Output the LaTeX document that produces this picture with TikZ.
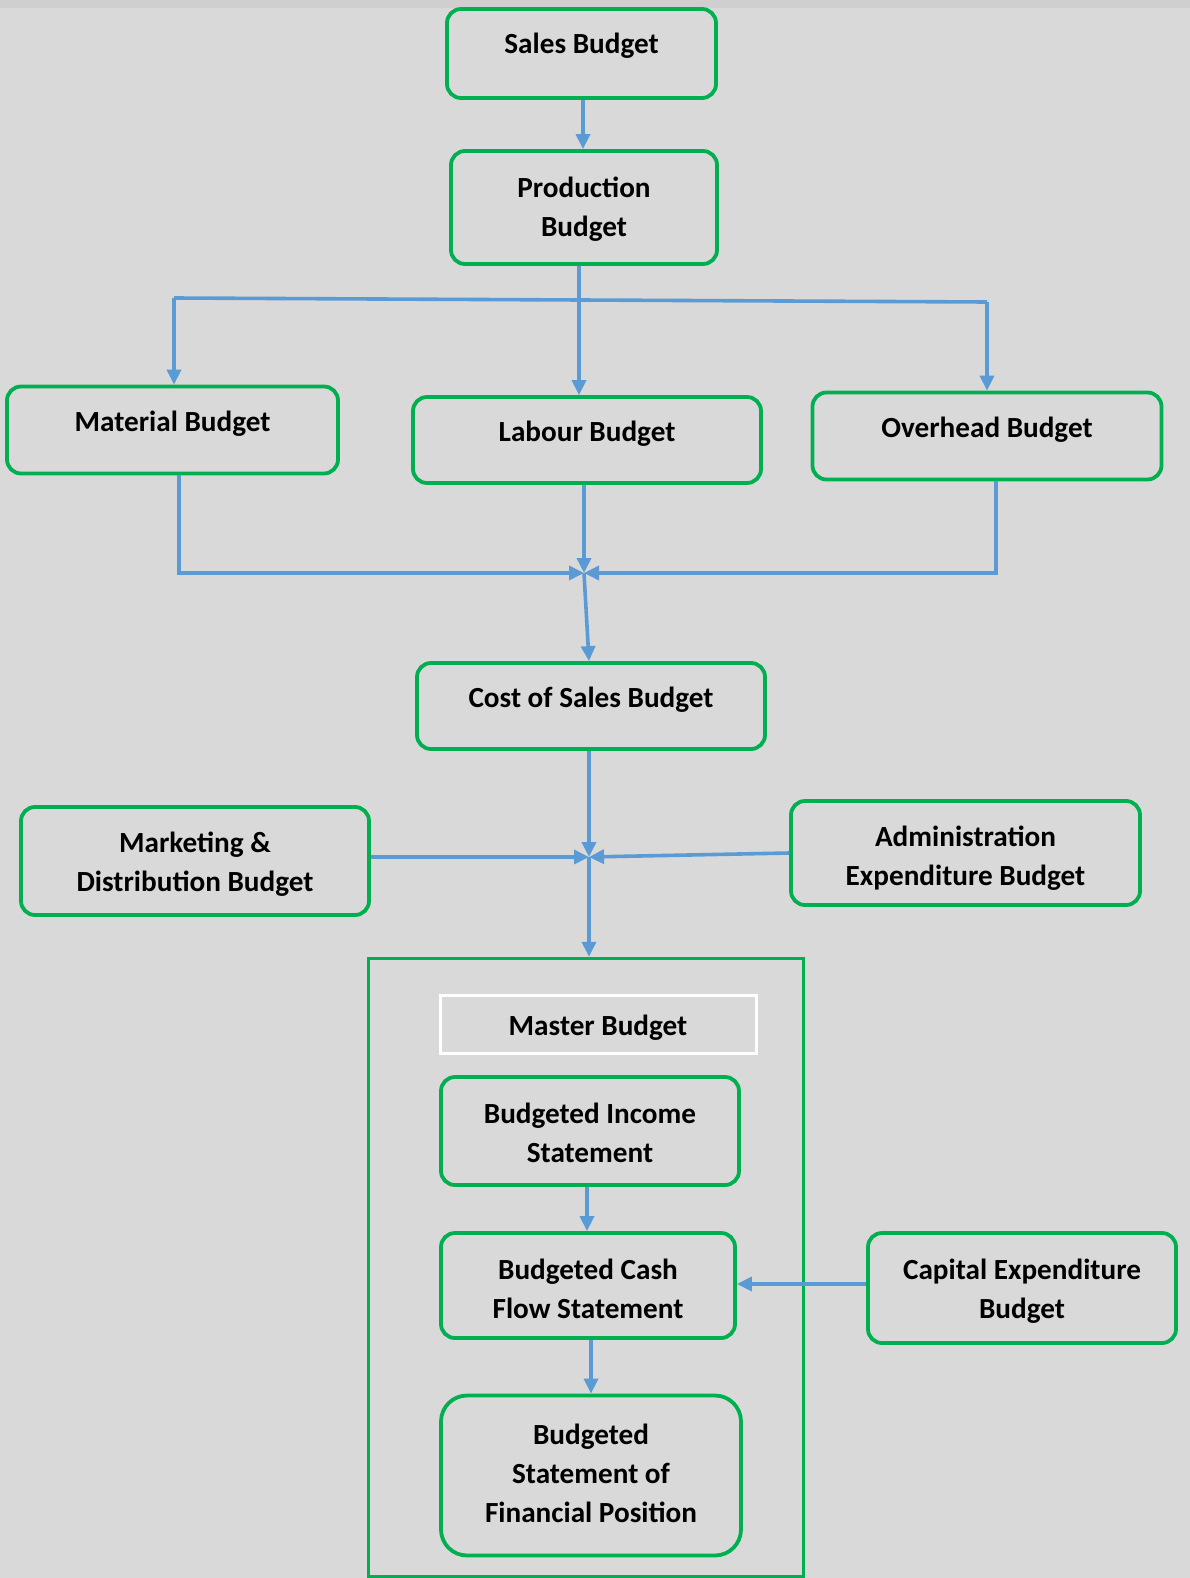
\documentclass[tikz,border=0pt]{standalone}
\usepackage{fontspec}
\setmainfont{Carlito}
\usetikzlibrary{arrows.meta}
\definecolor{bg}{HTML}{D9D9D9}
\definecolor{strip}{HTML}{D0CECE}
\definecolor{gr}{HTML}{00B050}
\definecolor{bl}{HTML}{5B9BD5}
\begin{document}
\begin{tikzpicture}[x=1pt,y=-1pt,
  box/.style={draw=gr, line width=3.8pt, rounded corners=14pt, inner sep=0pt, align=center,
    font=\fontsize{29.2}{39}\selectfont\bfseries},
  txt/.style={inner sep=0pt, align=center, font=\fontsize{29.2}{39}\selectfont\bfseries},
  oneline/.style={text height=20pt, text depth=17pt},
  conn/.style={draw=bl, line width=3.6pt},
  arr/.style={conn, -{Triangle[width=14pt,length=15pt]}},
]
\useasboundingbox (0,0) rectangle (1190,1578);
\fill[bg] (0,0) rectangle (1190,1578);
\fill[strip] (0,0) rectangle (1190,8);

% master container
\node[draw=gr, line width=3.4pt, minimum width=435pt, minimum height=618.5pt, inner sep=0pt] (master) at (586,1267.75) {};

% single-line boxes
\node[box, oneline, text height=22pt, text depth=21pt, minimum width=269pt, minimum height=89pt] (sales) at (581.5,53.5) {Sales Budget};
\node[box, oneline, minimum width=331pt, minimum height=87pt] (mat) at (172.5,430) {Material Budget};
\node[box, oneline, minimum width=348pt, minimum height=86pt] (lab) at (587,440) {Labour Budget};
\node[box, oneline, minimum width=349pt, minimum height=87pt] (over) at (987,436) {Overhead Budget};
\node[box, oneline, minimum width=348pt, minimum height=86pt] (cost) at (591,706) {Cost of Sales Budget};
\node[draw=white, line width=3pt, inner sep=0pt, minimum width=316pt, minimum height=58pt,
  font=\fontsize{29.2}{39}\selectfont\bfseries, text height=24pt, text depth=2pt] (mlabel) at (598,1024) {Master Budget};

% multi-line boxes (box + text)
\node[box, minimum width=266pt, minimum height=113pt] (prod) at (584,207.5) {};
\node[txt] (prodT) at (584,209.5) {Production\\Budget};
\node[box, minimum width=348pt, minimum height=108pt] (mkt) at (195,861) {};
\node[txt] (mktT) at (195,864) {Marketing \&\\Distribution Budget};
\node[box, minimum width=349pt, minimum height=104pt] (adm) at (965.5,853) {};
\node[txt] (admT) at (965.5,858) {Administration\\Expenditure Budget};
\node[box, minimum width=298pt, minimum height=108pt] (inc) at (590,1131) {};
\node[txt] (incT) at (590,1133) {Budgeted Income\\Statement};
\node[box, minimum width=294pt, minimum height=105pt] (cash) at (588,1285.5) {};
\node[txt] (cashT) at (588,1288.5) {Budgeted Cash\\Flow Statement};
\node[box, minimum width=308pt, minimum height=110pt] (cap) at (1022,1288) {};
\node[txt] (capT) at (1022,1291) {Capital Expenditure\\Budget};
\node[box, rounded corners=26pt, minimum width=300pt, minimum height=160pt] (fin) at (591,1475.5) {};
\node[txt] (finT) at (591,1473.5) {Budgeted\\Statement of\\Financial Position};

% helper coordinates
\coordinate (vA) at (583,0);
\coordinate (vB) at (579,0);
\coordinate (busL) at (174,298);
\coordinate (busR) at (987,302);
\coordinate (vM) at (179,0);
\coordinate (vO) at (996,0);
\coordinate (j1) at (584,573);
\coordinate (vC) at (589,0);
\coordinate (j2) at (589,857);
\coordinate (vI) at (587,0);
\coordinate (yc) at (0,1284);
\coordinate (vF) at (591,0);

% connectors
\draw[arr] (sales.south -| vA) -- (prod.north -| vA);
\draw[arr] (prod.south -| vB) -- (lab.north -| vB);
\draw[conn] (busL) -- (busR);
\draw[arr] (busL) -- (busL |- mat.north);
\draw[arr] (busR) -- (busR |- over.north);
\draw[arr] (mat.south -| vM) |- (j1);
\draw[arr] (lab.south -| j1) -- (j1);
\draw[arr] (over.south -| vO) |- (j1);
\draw[arr] (j1) -- (cost.north -| vC);
\draw[arr] (cost.south -| j2) -- (j2);
\draw[arr] (mkt.east |- j2) -- (j2);
\draw[arr] (adm.west) -- (j2);
\draw[arr] (j2) -- (j2 |- master.north);
\draw[arr] (inc.south -| vI) -- (cash.north -| vI);
\draw[arr] (cap.west |- yc) -- (cash.east |- yc);
\draw[arr] (cash.south -| vF) -- (fin.north -| vF);
\end{tikzpicture}
\end{document}
